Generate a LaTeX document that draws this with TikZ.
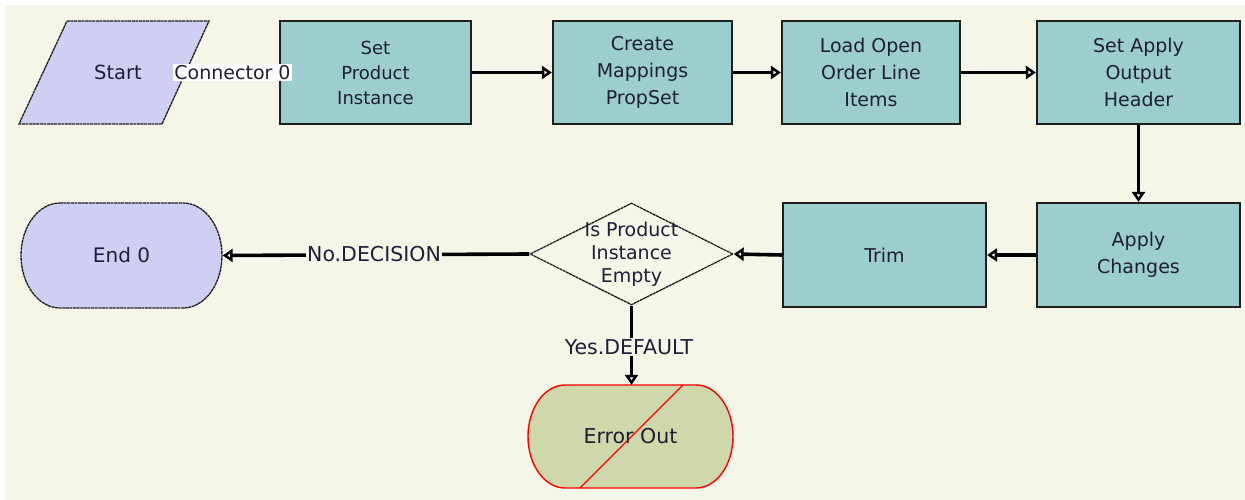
\documentclass[tikz,border=0pt]{standalone}
\usepackage{fontspec}
\setmainfont{DejaVu Sans}
\usetikzlibrary{arrows.meta,shapes.geometric}
\definecolor{bg}{RGB}{245,245,232}
\definecolor{lav}{RGB}{207,207,243}
\definecolor{tealbox}{RGB}{156,206,205}
\definecolor{errfill}{RGB}{207,216,170}
\definecolor{boxline}{RGB}{30,30,30}
\definecolor{txt}{RGB}{30,30,55}
\begin{document}
\begin{tikzpicture}[x=1pt,y=1pt,
  box/.style={draw=boxline, line width=2.2pt, fill=tealbox, minimum height=103, inner sep=0, align=center, text=txt, font=\fontsize{19}{27}\selectfont},
  ghost/.style={inner sep=0, text=txt, font=\fontsize{20}{24}\selectfont},
  conn/.style={line width=3.6pt, -{Triangle[length=10pt,width=13pt,fill=white,line width=2.6pt]}},
  lbl/.style={font=\fontsize{20.5}{24}\selectfont, text=txt, fill=bg, inner sep=1pt},
  outline/.style={draw=boxline, line width=1.3pt, dash pattern=on 3pt off 0.6pt}]
\useasboundingbox (0,0) rectangle (1245,500);
\fill[white] (0,0) rectangle (1245,500);
\fill[bg] (5,0) rectangle (1245,495);
% start parallelogram
\filldraw[fill=lav, outline] (67,479) -- (209,479) -- (162,376) -- (19,376) -- cycle;
\node[ghost, font=\fontsize{19.5}{24}\selectfont] (start) at (118,427.5) {Start};
\coordinate (startR) at (185.5,427.5);
% top row
\node[box, minimum width=191, font=\fontsize{18}{25}\selectfont] (sp) at (375.5,427.5) {Set\\Product\\Instance};
\node[box, minimum width=179] (cm) at (642.5,427.5) {Create\\Mappings\\PropSet};
\node[box, minimum width=178] (lo) at (871,427.5) {Load Open\\Order Line\\Items};
\node[box, minimum width=203] (sa) at (1138.5,427.5) {Set Apply\\Output\\Header};
% bottom row
\node[box, minimum width=203, minimum height=104] (ac) at (1138.5,245) {Apply\\Changes};
\node[box, minimum width=203, minimum height=104] (trim) at (884.5,245) {Trim};
% decision
\node[diamond, outline, minimum width=203, minimum height=102, inner sep=0] (dec) at (631.5,246) {};
\node[ghost, align=center, font=\fontsize{19}{23}\selectfont] (dectext) at (dec) {Is Product\\Instance\\Empty};
% end
\filldraw[fill=lav, outline] (60,297) -- (183,297) arc[start angle=90, end angle=-90, x radius=39, y radius=52.5] -- (60,192) arc[start angle=270, end angle=90, x radius=39, y radius=52.5] -- cycle;
\node[ghost, minimum width=202, minimum height=105] (end) at (121.5,244.5) {End 0};
% error
\filldraw[fill=errfill, draw=red, line width=1.4pt] (565,115) -- (696,115) arc[start angle=90, end angle=-90, x radius=37, y radius=51.5] -- (565,12) arc[start angle=270, end angle=90, x radius=37, y radius=51.5] -- cycle;
\draw[red, line width=1.4pt] (580,12) -- (683,115);
\node[ghost, minimum width=205, minimum height=103, font=\fontsize{20.5}{24}\selectfont] (err) at (630.5,63.5) {Error Out};
% connectors
\draw[conn] (startR) -- (sp.west);
\draw[conn] (sp.east) -- (cm.west);
\draw[conn] (cm.east) -- (lo.west);
\draw[conn] (lo.east) -- (sa.west);
\draw[conn] (sa.south) -- (ac.north);
\draw[conn] (ac.west) -- (trim.east);
\draw[conn] (trim.west) -- (dec.east);
\draw[conn] (dec.west) -- (end.east);
\draw[conn] (dec.south) -- (dec.south |- err.north);
% labels
\node[lbl, fill=white, font=\fontsize{19}{24}\selectfont] (c0) at (232.5,427.5) {Connector 0};
\node[lbl] (no) at (374,246) {No.DECISION};
\node[lbl] (yes) at (629,153) {Yes.DEFAULT};
\end{tikzpicture}
\end{document}
